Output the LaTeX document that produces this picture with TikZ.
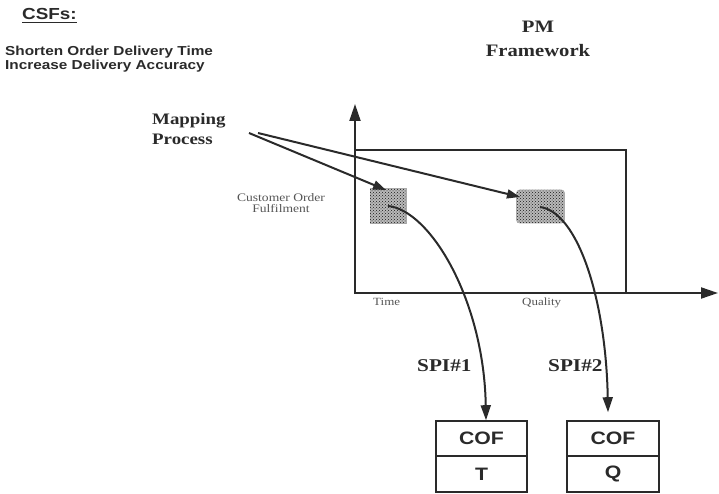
\documentclass[tikz,border=0pt]{standalone}
\usepackage{fontspec}
\setmainfont{Liberation Serif}
\newfontfamily\widesans[FakeStretch=1.18]{Liberation Sans}
\newfontfamily\wideserif[FakeStretch=1.18]{Liberation Serif}
\usetikzlibrary{arrows.meta,patterns,shapes.misc}
\definecolor{ink}{HTML}{2A2A2A}
\definecolor{softink}{HTML}{555555}
\tikzset{
  txt/.style={inner sep=0pt, anchor=base west, text=ink},
  ctxt/.style={inner sep=0pt, anchor=base, text=ink},
  ln/.style={draw=ink, line width=2pt},
  arr/.style={ln, -{Triangle[length=15pt,width=10pt]}},
  axisarr/.style={ln, -{Triangle[length=17pt,width=11pt]}},
  area/.style={fill=gray!55, postaction={pattern=crosshatch dots, pattern color=gray!20!black},
               inner sep=0pt, draw=gray!65, line width=0.6pt},
  cell/.style={draw=ink, line width=1.6pt, inner sep=0pt, text=ink,
               font=\widesans\bfseries\fontsize{18}{18}\selectfont}
}
\begin{document}
\begin{tikzpicture}[x=1pt,y=-1pt]
\useasboundingbox (0,0) rectangle (719,494);

% critical success factors
\node[txt, font=\widesans\bfseries\fontsize{16}{16}\selectfont] (csf) at (22,20) {CSFs:};
\draw[ink, line width=1.4pt] ([yshift=-2.5pt]csf.base west) -- ([yshift=-2.5pt]csf.base east);
\node[txt, font=\widesans\bfseries\fontsize{13}{13}\selectfont] (csfa) at (5,56) {Shorten Order Delivery Time};
\node[txt, font=\widesans\bfseries\fontsize{13}{13}\selectfont] (csfb) at (5,70) {Increase Delivery Accuracy};

% framework title
\node[ctxt, font=\wideserif\bfseries\fontsize{17.5}{17.5}\selectfont] (pm) at (538,33) {PM};
\node[ctxt, font=\wideserif\bfseries\fontsize{17.5}{17.5}\selectfont] (fw) at (538,57) {Framework};

% mapping label
\node[txt, font=\wideserif\bfseries\fontsize{16}{16}\selectfont] (map) at (152,125) {Mapping};
\node[txt, font=\wideserif\bfseries\fontsize{16}{16}\selectfont] (proc) at (152,145) {Process};

% axes and framework area
\coordinate (o) at (355,293);
\coordinate (ytop) at (355,104);
\coordinate (xend) at (718,293);
\draw[axisarr] (o) -- (ytop);
\draw[axisarr] ([xshift=-1pt]o) -- (xend);
\draw[ln] (355,150) rectangle (626,293);

\node[ctxt, font=\wideserif\fontsize{11.5}{11.5}\selectfont, text=softink] (cust) at (281,201) {Customer Order};
\node[ctxt, font=\wideserif\fontsize{11.5}{11.5}\selectfont, text=softink] (ful) at (281,213) {Fulfilment};
\node[txt, font=\wideserif\fontsize{11}{11}\selectfont, text=softink] (time) at (373,305) {Time};
\node[txt, font=\wideserif\fontsize{11}{11}\selectfont, text=softink] (qual) at (522,305) {Quality};

% shaded measurement areas
\node[area, chamfered rectangle, chamfered rectangle corners=north west,
      chamfered rectangle xsep=6pt, chamfered rectangle ysep=6pt,
      minimum width=36pt, minimum height=35pt] (shA) at (388,206) {};
\node[area, rectangle, rounded corners=3pt, minimum width=48pt, minimum height=33pt] (shB) at (540.5,206.5) {};

% mapping arrows
\coordinate (m1) at (249,133);
\coordinate (m2) at (258,133);
\coordinate (hitA) at (386,190);
\coordinate (hitB) at (520,197);
\draw[ln, -{Triangle[length=13pt,width=9pt]}] (m1) -- (hitA);
\draw[ln, -{Triangle[length=13pt,width=9pt]}] (m2) -- (hitB);

% indicator boxes
\node[cell, minimum width=91pt, minimum height=35pt] (cofA) at (481.5,438.5) {COF};
\node[cell, minimum width=91pt, minimum height=36pt] (tA) at (481.5,474) {T};
\node[cell, minimum width=92pt, minimum height=35pt] (cofB) at (613,438.5) {COF};
\node[cell, minimum width=92pt, minimum height=36pt] (qB) at (613,474) {Q};

% performance indicator links
\draw[arr] (shA.center) .. controls (430,210) and (484,300) .. ([xshift=4.5pt]cofA.north);
\draw[arr] ([xshift=-0.5pt,yshift=-0.5pt]shB.center) .. controls (578,212) and (606,300) .. ([xshift=-5pt,yshift=8pt]cofB.north);

\node[txt, font=\wideserif\bfseries\fontsize{18}{18}\selectfont] (spi1) at (417,371) {SPI\#1};
\node[txt, font=\wideserif\bfseries\fontsize{18}{18}\selectfont] (spi2) at (548,371) {SPI\#2};
\end{tikzpicture}
\end{document}
